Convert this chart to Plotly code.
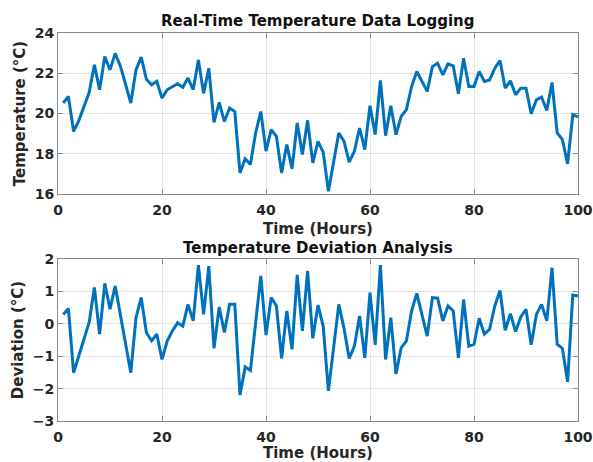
import plotly.graph_objects as go

hours = list(range(1, 101))

temperature = [
    20.52, 20.85, 19.11, 19.65, 20.35, 21.05, 22.42, 21.18, 22.83, 22.17,
    22.99, 22.35, 21.45, 20.52, 22.17, 22.80, 21.70, 21.43, 21.60, 20.77,
    21.18, 21.35, 21.48, 21.30, 21.76, 21.18, 22.66, 21.00, 22.25, 19.56,
    20.55, 19.60, 20.27, 20.10, 17.05, 17.75, 17.47, 19.03, 20.10, 18.13,
    19.20, 18.87, 17.05, 18.46, 17.25, 19.53, 17.96, 19.66, 17.55, 18.62,
    18.08, 16.14, 17.55, 19.03, 18.62, 17.58, 18.13, 19.28, 18.21, 20.39,
    18.95, 21.64, 18.90, 20.39, 18.95, 19.86, 20.19, 21.34, 22.09, 21.59,
    21.10, 22.33, 22.50, 21.92, 22.47, 22.37, 20.98, 22.75, 21.34, 21.34,
    22.09, 21.59, 21.67, 22.25, 22.63, 21.26, 21.62, 20.93, 21.26, 21.26,
    19.99, 20.68, 20.82, 20.15, 21.54, 19.03, 18.70, 17.50, 19.94, 19.83,
]

deviation = [
    0.29, 0.47, -1.51, -1.00, -0.45, 0.05, 1.12, -0.32, 1.25, 0.45,
    1.17, 0.30, -0.60, -1.51, 0.19, 0.81, -0.27, -0.53, -0.32, -1.10,
    -0.53, -0.22, 0.03, -0.07, 0.60, 0.09, 1.81, 0.29, 1.78, -0.76,
    0.52, -0.27, 0.60, 0.60, -2.20, -1.33, -1.44, 0.05, 1.48, -0.35,
    0.81, 0.55, -1.07, 0.40, -0.79, 1.51, -0.22, 1.63, -0.45, 0.58,
    -0.07, -2.07, -0.74, 0.60, -0.14, -1.07, -0.69, 0.24, -1.05, 0.96,
    -0.65, 1.81, -1.10, 0.19, -1.55, -0.74, -0.53, 0.40, 0.94, 0.29,
    -0.38, 0.81, 0.79, 0.09, 0.55, 0.40, -1.05, 0.75, -0.69, -0.63,
    0.17, -0.32, -0.17, 0.55, 1.03, -0.20, 0.31, -0.24, 0.21, 0.45,
    -0.65, 0.29, 0.60, 0.09, 1.73, -0.63, -0.76, -1.79, 0.89, 0.86,
]

x_ticks = [0, 20, 40, 60, 80, 100]
temp_ticks = [16, 18, 20, 22, 24]
dev_ticks = [-3, -2, -1, 0, 1, 2]

LINE = "#0072BD"
FONT = "DejaVu Sans, Liberation Sans, Arial, sans-serif"
TXT = "#262626"
AXC = "#8a8a8a"

fig = go.Figure()
fig.add_trace(go.Scatter(x=hours, y=temperature, mode="lines",
                         line=dict(color=LINE, width=3), xaxis="x", yaxis="y",
                         showlegend=False))
fig.add_trace(go.Scatter(x=hours, y=deviation, mode="lines",
                         line=dict(color=LINE, width=3), xaxis="x2", yaxis="y2",
                         showlegend=False))

def xax(anchor):
    return dict(
        range=[0, 100], tickvals=x_ticks, anchor=anchor, automargin=False,
        showgrid=True, gridcolor="#e3e3e3", gridwidth=1,
        showline=True, linecolor=AXC, linewidth=1, mirror="ticks",
        ticks="inside", ticklen=5, tickcolor=AXC, ticklabelstandoff=3,
        tickfont=dict(family=FONT, size=14, color=TXT, weight="bold"),
        zeroline=False,
        title=dict(text="Time (Hours)", standoff=6,
                   font=dict(family=FONT, size=15, color=TXT, weight="bold")),
    )

def yax(rng, ticks, title, domain, anchor):
    return dict(
        range=rng, tickvals=ticks, domain=domain, anchor=anchor, automargin=False,
        showgrid=True, gridcolor="#e3e3e3", gridwidth=1,
        showline=True, linecolor=AXC, linewidth=1, mirror="ticks",
        ticks="inside", ticklen=5, tickcolor=AXC,
        tickfont=dict(family=FONT, size=14, color=TXT, weight="bold"),
        zeroline=False,
        title=dict(text=title, standoff=5,
                   font=dict(family=FONT, size=15, color=TXT, weight="bold")),
    )

fig.update_layout(
    width=593, height=462,
    margin=dict(l=58, r=15, t=33, b=41),
    paper_bgcolor="white", plot_bgcolor="white",
    xaxis=xax("y"),
    yaxis=yax([16, 24], temp_ticks, "Temperature (°C)", [0.585, 1.0], "x"),
    xaxis2=xax("y2"),
    yaxis2=yax([-3, 2], dev_ticks, "Deviation (°C)", [0.0, 0.4175], "x2"),
    annotations=[
        dict(text="Real-Time Temperature Data Logging", xref="paper", yref="paper",
             x=0.5, y=(421 - 21) / 388, xanchor="center", yanchor="middle", showarrow=False,
             font=dict(family=FONT, size=15, color="#111", weight="bold")),
        dict(text="Temperature Deviation Analysis", xref="paper", yref="paper",
             x=0.5, y=(421 - 248) / 388, xanchor="center", yanchor="middle", showarrow=False,
             font=dict(family=FONT, size=15, color="#111", weight="bold")),
    ],
)

fig.write_html("out.html")
